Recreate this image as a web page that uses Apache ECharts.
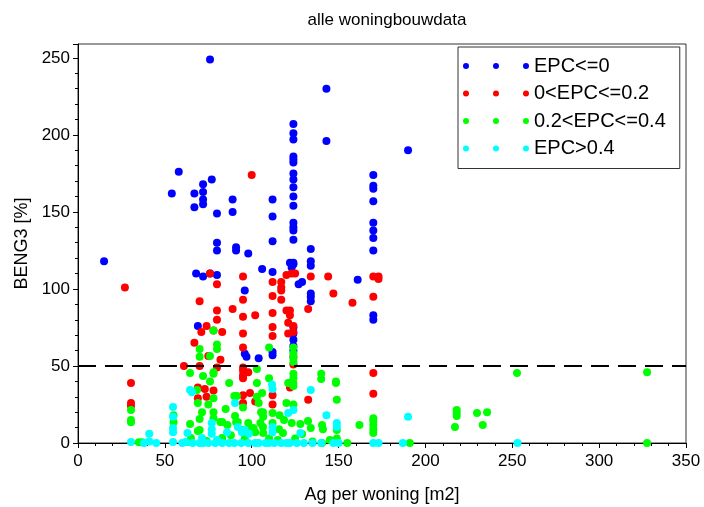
<!DOCTYPE html>
<html>
<head>
<meta charset="utf-8">
<script src="https://cdn.jsdelivr.net/npm/echarts@6/dist/echarts.min.js"></script>
<style>html,body{margin:0;padding:0;background:#fff}#c{width:704px;height:507px}</style>
</head>
<body>
<div id="c"></div>
<script>
const titleText = "alle woningbouwdata";
const xName = "Ag per woning [m2]";
const yName = "BENG3 [%]";
const seriesNames = ["EPC<=0", "0<EPC<=0.2", "0.2<EPC<=0.4", "EPC>0.4"];
const seriesColors = ["#0000ff", "#ff0000", "#00ff00", "#00ffff"];
const thresholdValue = 50;

const epcLe0 = [
  [15,118],[54,162],[58,176],[67,162],[67,153],[72,168],[72,163],[72,158],[72,155],[77,171],[76,249],
  [80,149],[80,130],[80,125],[89,158],[89,150],[91,127],[91,125],[98,123],[96,99],
  [68,110],[72,108],[76,110],[80,109],[69,76],
  [112,158],[112,147],[112,131],[106,113],[112,111],
  [124,207],[124,201],[124,197],[124,186],[124,184],[124,182],[124,175],[124,171],[124,166],[124,160],
  [124,154],[124,143],[124,140],[124,138],[124,132],[124,117],[124,116],[122,117],[123,114],[127,103],[129,104.5],
  [124,75],[124,71],[124,67],[124,63],[124,60],
  [134,126],[134,118],[134,115],[134,97],[134,95],[134,92],
  [143,230],[143,196],[161,106],[190,190],
  [170,174],[170,167],[170,165],[170,157],[170,143],[170,138],[170,133],[170,125],[170,83],[170,80],
  [97,56],[104,55],[112,59],[112,57],[96,58]
];
const epc0to02 = [
  [27,101],[30.5,39],[30.5,26],[30.5,24],[100,174],
  [76,110],[80,103],[70,92],[80,86],[89,87],[80,80],[74,76],[71,72],[78,73],[83,72],[67,65],[75,56.5],[82,54],
  [61,50],[70,50],[80,49],[69,36],[73,35],[78,34],[69,29],[74,30],
  [95,108],[95,93],[95,82],[95,71],[95,62],[95,49],[95,47],[95,44],[95,42],[98,46],[95,31],[99,32.5],[95,26],[102,27],
  [102,83],
  [112,104.5],[112,95.5],[112,84.4],[112,75.3],[112,69.5],[112,31],[112,25],
  [117,104.5],[117,101],[117,99],[117,93],[120,86],[121,78],[121,71],[120,109],[123,110],[125,110],
  [122,86],[122,83],[124,76],[124,72],[124,56],[124,51],[122,39],[122,36],
  [134,108],[144,108],[147,97],[132.5,87],[158,91],[132.5,28],
  [170,108],[173,108],[173,106.5],[170,95],[170,45.5],[170,32]
];
const epc02to04 = [
  [30.5,21.5],[30.5,15],[30.5,13.5],[35,0.5],[37,0.5],[55,18],[55,13.5],
  [78,73],[80,64],[80,61],[70,61],[70,56],[76,56.5],[64.5,45.4],[72,43.5],[78,46],[78,45],[87,39],[76,40],
  [68.5,34.4],[90,30.5],[69,26],[78,29],[95,23],[104,26],[71.4,20],[78,20],[78,16],[70,15.6],[82,13.6],
  [64.5,12.3],[70,8.4],[69,7.8],[83,13.6],[91,13.6],[98,13],[106.5,20],[105,13],[112,19.5],[103,39],
  [106,32.5],[110,42],[110,62],[106.5,10.4],[101,9.7],[94.4,8.4],[86,11.7],[65,3.2],[63,0.6],[74,1.3],[83,3.2],
  [124,62],[124,58],[124,55],[124,52.6],[124,45],[124,42],[124,39],[124,37],[103,48],[121,39],
  [140,45],[140,41.6],[148.5,40],[148.5,39],[91.5,30.5],[103,30],[120,26],[124,25],[149,28],
  [90.4,17.5],[92,13.6],[105.4,20],[106.6,17],[116,18],[118.6,15],[112,13],[115.7,9],[123,13],[128,12.3],
  [132.4,14.3],[134,9.7],[140.5,11.7],[141,9],[149,8.4],[149,3],[162,11.7],
  [170,16],[170,14.3],[170,11.7],[170,9],[170,6.5],[99.6,9],[102,7],[106.6,6.5],[118,6.5],[129,5.8],
  [191,0],[140.5,0],[75,25],[85,22],[88,5],[96,3],[110,3],[115,2],[125,3],[135,1],[145,2],[155,0],
  [252.7,45.4],[327.6,46],[218,21.4],[218,19.5],[218,17.5],[217,10.4],[229.7,19.5],[235.5,20],[233,11.7],[327.6,0]
];
const epcGt04 = [
  [30.5,0.6],[41,6],[41,1],[54.7,23.4],[54.7,17],[54.7,9.7],[54.7,7],[54.7,0.6],
  [64.5,34.4],[65.6,33],[63,6.5],[62,0.6],[71.4,3.2],[77,13],[77,9],[77,6],[80,2],[85.8,7],[90.4,26],
  [94.4,7],[98.4,6],[111.7,38],[112,35],[112,10.4],[112,7],[134,34.4],[143,18],[149,13],[149,10.4],
  [190,17],[121,19.5],[96,8.4],[128,6.5],[124,21.4],[92,10.4],
  [38,0],[45,0],[60,0],[66,0],[70,0],[72,0],[75,0],[79,0],[83,0],[87,0],[90,0],[94,0],[98,0],[102,0],
  [104,0],[108,0],[110,0],[113,0],[117,0],[120,0],[122,0],[126,0],[130,0],[135,0],[140,0],[147,0],
  [150,0],[170,0],[173,0],[187,0],[253,0]
];
const seriesData = [epcLe0, epc0to02, epc02to04, epcGt04];

const FONT = "Liberation Sans, Arial, sans-serif";
const dotsIcon = "path://M0,3A3,3,0,1,0,6,3A3,3,0,1,0,0,3Z M30,3A3,3,0,1,0,36,3A3,3,0,1,0,30,3Z M60,3A3,3,0,1,0,66,3A3,3,0,1,0,60,3Z";

const chart = echarts.init(document.getElementById('c'), null, {renderer: 'canvas'});
const series = seriesData.map((d, i) => ({
  name: seriesNames[i],
  type: 'scatter',
  data: d,
  symbolSize: 8,
  itemStyle: {color: seriesColors[i], opacity: 1},
  emphasis: {disabled: true},
  z: 2 + i
}));
series.push({
  name: 'threshold',
  type: 'scatter',
  data: [],
  z: 10,
  markLine: {
    silent: true,
    symbol: 'none',
    label: {show: false},
    lineStyle: {color: '#000', width: 2, type: [18, 9]},
    data: [{yAxis: thresholdValue}]
  }
});

chart.setOption({
  animation: false,
  backgroundColor: '#fff',
  textStyle: {fontFamily: FONT},
  title: {
    text: titleText, left: 382, top: 7, textAlign: 'center',
    textStyle: {fontSize: 17, fontWeight: 'normal', color: '#000', fontFamily: FONT}
  },
  grid: {left: 78, right: 18, top: 44, bottom: 64, containLabel: false, outerBoundsMode: 'none',
    show: true, borderColor: '#333', borderWidth: 1, backgroundColor: 'transparent'},
  legend: {
    data: seriesNames,
    orient: 'vertical',
    left: 458, top: 47,
    padding: [9, 14, 10, 5],
    itemWidth: 66, itemHeight: 6,
    itemGap: 7.5,
    icon: dotsIcon,
    backgroundColor: '#fff',
    borderColor: '#333', borderWidth: 1,
    selectedMode: false,
    textStyle: {fontSize: 20, color: '#000', fontFamily: FONT, lineHeight: 20}
  },
  xAxis: {
    type: 'value', min: 0, max: 350, interval: 50,
    name: xName, nameLocation: 'middle', nameGap: 43,
    nameTextStyle: {fontSize: 18, color: '#000', fontFamily: FONT},
    axisLine: {show: true, onZero: false, lineStyle: {color: '#000'}},
    axisTick: {show: true, length: 5, lineStyle: {color: '#000'}},
    minorTick: {show: true, splitNumber: 5, length: 3, lineStyle: {color: '#000'}},
    axisLabel: {fontSize: 17, color: '#000', margin: 10, fontFamily: FONT},
    splitLine: {show: false}
  },
  yAxis: {
    type: 'value', min: 0, max: 259, interval: 50,
    name: yName, nameLocation: 'middle', nameGap: 47,
    nameTextStyle: {fontSize: 18, color: '#000', fontFamily: FONT},
    axisLine: {show: true, onZero: false, lineStyle: {color: '#000'}},
    axisTick: {show: true, length: 5, lineStyle: {color: '#000'}},
    minorTick: {show: true, splitNumber: 5, length: 3, lineStyle: {color: '#000'}},
    axisLabel: {fontSize: 17, color: '#000', margin: 8, fontFamily: FONT},
    splitLine: {show: false}
  },
  series: series
});
</script>
</body>
</html>
